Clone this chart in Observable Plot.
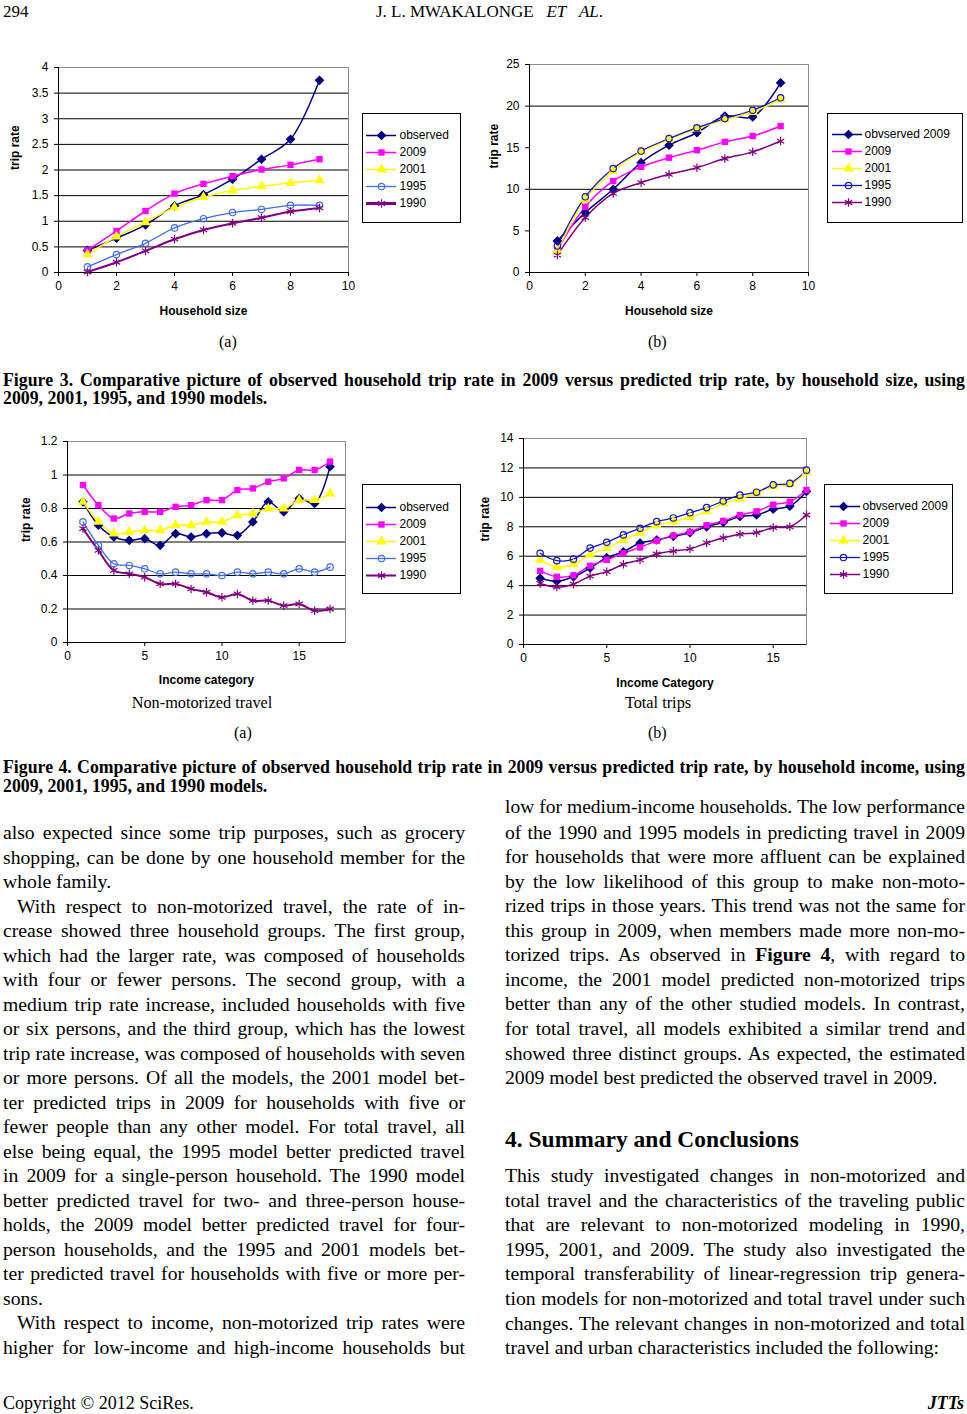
<!DOCTYPE html>
<html><head><meta charset="utf-8">
<script src="https://cdn.jsdelivr.net/npm/d3@7"></script>
<script src="https://cdn.jsdelivr.net/npm/@observablehq/plot@0.6"></script>
<style>
html,body{margin:0;padding:0;background:#fff;}
#page{position:relative;width:967px;height:1414px;overflow:hidden;background:#fff;font-family:"Liberation Serif","Times New Roman",serif;color:#000;}
.abs{position:absolute;}
.ln{position:absolute;white-space:nowrap;font-size:19.7px;height:24px;line-height:24px;}
.j{text-align:justify;text-align-last:justify;}
.cap{font-weight:bold;font-size:17.8px;}
</style></head>
<body><div id="page"></div>
<script>
// ---------- DATA ----------
const seriesKeys = ["observed", "2009", "2001", "1995", "1990"];
const householdSize = [1, 2, 3, 4, 5, 6, 7, 8, 9];
const incomeCategory = [1, 2, 3, 4, 5, 6, 7, 8, 9, 10, 11, 12, 13, 14, 15, 16, 17];

// Figure 3(a): non-motorized trip rate by household size
const hhNonMotorObserved = [0.43, 0.67, 0.93, 1.30, 1.52, 1.82, 2.21, 2.60, 3.75];
const hhNonMotor2009 = [0.43, 0.81, 1.20, 1.54, 1.73, 1.88, 2.01, 2.10, 2.21];
const hhNonMotor2001 = [0.35, 0.70, 0.98, 1.27, 1.47, 1.60, 1.68, 1.75, 1.80];
const hhNonMotor1995 = [0.11, 0.35, 0.57, 0.87, 1.05, 1.17, 1.23, 1.31, 1.31];
const hhNonMotor1990 = [0.01, 0.20, 0.42, 0.65, 0.83, 0.96, 1.07, 1.19, 1.26];

// Figure 3(b): total trip rate by household size
const hhTotalObserved = [3.8, 7.2, 10.0, 13.2, 15.3, 16.8, 18.8, 18.7, 22.8];
const hhTotal2009 = [2.7, 7.9, 11.0, 12.7, 13.8, 14.7, 15.7, 16.4, 17.6];
const hhTotal2001 = [2.6, 8.8, 12.2, 14.5, 16.0, 17.3, 18.4, 19.3, 20.8];
const hhTotal1995 = [3.2, 9.1, 12.5, 14.6, 16.1, 17.4, 18.5, 19.5, 21.0];
const hhTotal1990 = [2.1, 6.6, 9.5, 10.8, 11.8, 12.6, 13.7, 14.5, 15.8];

// Figure 4(a): non-motorized trip rate by income category
const incNonMotorObserved = [0.84, 0.70, 0.63, 0.61, 0.62, 0.58, 0.65, 0.63, 0.65, 0.655, 0.64, 0.72, 0.84, 0.78, 0.86, 0.83, 1.05];
const incNonMotor2009 = [0.94, 0.82, 0.74, 0.77, 0.78, 0.78, 0.81, 0.82, 0.85, 0.85, 0.91, 0.92, 0.96, 0.98, 1.03, 1.03, 1.08];
const incNonMotor2001 = [0.84, 0.72, 0.65, 0.66, 0.67, 0.67, 0.70, 0.70, 0.72, 0.72, 0.76, 0.77, 0.80, 0.80, 0.85, 0.85, 0.89];
const incNonMotor1995 = [0.72, 0.58, 0.47, 0.46, 0.44, 0.41, 0.42, 0.41, 0.41, 0.40, 0.42, 0.41, 0.42, 0.41, 0.44, 0.42, 0.45];
const incNonMotor1990 = [0.68, 0.55, 0.43, 0.41, 0.39, 0.35, 0.35, 0.32, 0.30, 0.27, 0.29, 0.25, 0.25, 0.22, 0.23, 0.19, 0.20];

// Figure 4(b): total trip rate by income category
const incTotalObserved = [4.5, 4.3, 4.6, 5.2, 5.9, 6.3, 6.9, 7.1, 7.35, 7.6, 8.0, 8.3, 8.7, 8.8, 9.2, 9.4, 10.4];
const incTotal2009 = [5.0, 4.6, 4.7, 5.35, 5.75, 6.2, 6.6, 7.05, 7.4, 7.65, 8.1, 8.4, 8.8, 9.05, 9.5, 9.7, 10.5];
const incTotal2001 = [5.75, 5.25, 5.45, 6.1, 6.55, 7.1, 7.6, 8.1, 8.35, 8.65, 9.05, 9.6, 9.9, 10.3, 10.75, 10.9, 11.7];
const incTotal1995 = [6.2, 5.7, 5.8, 6.55, 6.95, 7.45, 7.9, 8.35, 8.6, 8.95, 9.3, 9.75, 10.15, 10.35, 10.85, 10.95, 11.85];
const incTotal1990 = [4.15, 3.9, 4.1, 4.65, 4.95, 5.45, 5.75, 6.15, 6.35, 6.5, 6.9, 7.25, 7.5, 7.6, 7.95, 8.0, 8.8];

// tick values
const ticksHHx = [0, 2, 4, 6, 8, 10];
const ticksIncx = [0, 5, 10, 15];
const ticksNMhh = [0, 0.5, 1, 1.5, 2, 2.5, 3, 3.5, 4];
const ticksTotHH = [0, 5, 10, 15, 20, 25];
const ticksNMinc = [0, 0.2, 0.4, 0.6, 0.8, 1, 1.2];
const ticksTotInc = [0, 2, 4, 6, 8, 10, 12, 14];

// ---------- HELPERS ----------
const page = document.getElementById("page");
const SANS = "Liberation Sans, Arial, Helvetica, sans-serif";

function styleFor(key, variant) {
  const blue95 = variant === "a" ? "#3F6FEF" : "#1414C8";
  switch (key) {
    case "observed": return {color: "#000080", symbol: "diamond2", fill: "#000080", stroke: "#000080", r: 3.6, sw: 1.5};
    case "2009": return {color: "#FF00FF", symbol: "square", fill: "#FF00FF", stroke: "none", r: 3.6, sw: 1.5};
    case "2001": return {color: "#FFFF00", symbol: "triangle", fill: "#FFFF00", stroke: "none", r: 3.8, sw: 1.5};
    case "1995": return {color: blue95, symbol: "circle", fill: "none", stroke: blue95, r: 3.2, sw: 1.3};
    case "1990": return {color: "#800080", symbol: "asterisk", fill: "none", stroke: "#800080", r: 4, sw: variant === "a" ? 2 : 1.5};
  }
}

function place(svg, left, top) {
  const d = document.createElement("div");
  d.className = "abs";
  d.style.left = left + "px";
  d.style.top = top + "px";
  d.appendChild(svg);
  page.appendChild(d);
}

function drawChart(cfg) {
  const rows = [];
  seriesKeys.forEach((k, i) => cfg.cats.forEach((c, j) => rows.push({series: k, x: c, y: cfg.values[i][j]})));
  const marks = [
    Plot.gridY(cfg.grid, {stroke: "#000", strokeOpacity: 1, strokeWidth: 1}),
    Plot.frame({stroke: "#8c8c8c"}),
    Plot.ruleX([cfg.xDomain[0]], {stroke: "#000"}),
    Plot.ruleY([cfg.yDomain[0]], {stroke: "#000"}),
    Plot.axisY({ticks: cfg.yTicks, tickSize: 4, tickPadding: 6, fontSize: 12, label: null, tickFormat: d => String(d)}),
    Plot.axisX({ticks: cfg.xTicks, tickSize: 4, tickPadding: 5, fontSize: 12, label: null, tickFormat: d => String(d)})
  ];
  seriesKeys.forEach(k => {
    const s = styleFor(k, cfg.variant);
    marks.push(Plot.line(rows, {filter: d => d.series === k, x: "x", y: "y", stroke: s.color, strokeWidth: s.sw, curve: "catmull-rom"}));
  });
  seriesKeys.forEach(k => {
    const s = styleFor(k, cfg.variant);
    marks.push(Plot.dot(rows, {filter: d => d.series === k, x: "x", y: "y", symbol: s.symbol, fill: s.fill, stroke: s.stroke, strokeWidth: 1.2, r: s.r}));
  });
  marks.push(Plot.text([cfg.yLabel], {text: d => d, frameAnchor: "left", dx: cfg.yLabelDx, rotate: -90, fontWeight: "bold", fontSize: 12}));
  marks.push(Plot.text([cfg.xLabel], {text: d => d, frameAnchor: "bottom", dy: cfg.xLabelDy, fontWeight: "bold", fontSize: 12}));
  const svg = Plot.plot({
    width: cfg.width, height: cfg.height,
    marginTop: cfg.m[0], marginRight: cfg.m[1], marginBottom: cfg.m[2], marginLeft: cfg.m[3],
    x: {domain: cfg.xDomain, nice: false},
    y: {domain: cfg.yDomain, nice: false},
    style: {fontFamily: SANS, fontSize: "12px", background: "transparent", overflow: "visible", color: "#000"},
    marks
  });
  place(svg, cfg.left, cfg.top);
}

function drawLegend(cfg) {
  const marks = [Plot.frame({stroke: "#000", strokeWidth: 1})];
  seriesKeys.forEach((k, i) => {
    const s = styleFor(k, cfg.variant);
    const lw = (k === "1990" && cfg.thick) ? 3 : s.sw;
    marks.push(Plot.ruleY([k], {y: d => d, x1: () => cfg.lineX[0], x2: () => cfg.lineX[1], stroke: s.color, strokeWidth: lw}));
    marks.push(Plot.dot([k], {y: d => d, x: () => cfg.markX, symbol: s.symbol, fill: s.fill, stroke: s.stroke, strokeWidth: 1.2, r: s.r}));
    marks.push(Plot.text([k], {y: d => d, x: () => cfg.textX, text: () => cfg.labels[i], textAnchor: "start", fontSize: 12}));
  });
  const svg = Plot.plot({
    width: cfg.w, height: cfg.h, margin: 0,
    x: {domain: [0, cfg.w], range: [0, cfg.w], axis: null},
    y: {type: "point", domain: seriesKeys, range: cfg.rowRange, axis: null},
    style: {fontFamily: SANS, fontSize: "12px", background: "transparent", overflow: "visible", color: "#000"},
    marks
  });
  place(svg, cfg.left, cfg.top);
}

// ---------- CHARTS ----------
drawChart({left: 0, top: 55, width: 360, height: 270, m: [12, 12, 53, 58], variant: "a",
  cats: householdSize, values: [hhNonMotorObserved, hhNonMotor2009, hhNonMotor2001, hhNonMotor1995, hhNonMotor1990],
  xDomain: [0, 10], yDomain: [0, 4], xTicks: ticksHHx, yTicks: ticksNMhh, grid: ticksNMhh.slice(1),
  yLabel: "trip rate", xLabel: "Household size", yLabelDx: -43, xLabelDy: 42});

drawChart({left: 490, top: 55, width: 330, height: 270, m: [9, 12, 53, 39], variant: "b",
  cats: householdSize, values: [hhTotalObserved, hhTotal2009, hhTotal2001, hhTotal1995, hhTotal1990],
  xDomain: [0, 10], yDomain: [0, 25], xTicks: ticksHHx, yTicks: ticksTotHH, grid: [10, 20],
  yLabel: "trip rate", xLabel: "Household size", yLabelDx: -35, xLabelDy: 42});

drawChart({left: 0, top: 428, width: 360, height: 285, m: [13, 15, 71, 67], variant: "a",
  cats: incomeCategory, values: [incNonMotorObserved, incNonMotor2009, incNonMotor2001, incNonMotor1995, incNonMotor1990],
  xDomain: [0, 18], yDomain: [0, 1.2], xTicks: ticksIncx, yTicks: ticksNMinc, grid: ticksNMinc.slice(1),
  yLabel: "trip rate", xLabel: "Income category", yLabelDx: -41, xLabelDy: 41});

drawChart({left: 470, top: 428, width: 350, height: 285, m: [10, 14, 69, 53], variant: "b",
  cats: incomeCategory, values: [incTotalObserved, incTotal2009, incTotal2001, incTotal1995, incTotal1990],
  xDomain: [0, 17], yDomain: [0, 14], xTicks: ticksIncx, yTicks: ticksTotInc, grid: ticksTotInc.slice(1),
  yLabel: "trip rate", xLabel: "Income Category", yLabelDx: -38, xLabelDy: 42});

// ---------- LEGENDS ----------
const legendLabelsA = ["observed", "2009", "2001", "1995", "1990"];
const legendLabelsB = ["obvserved 2009", "2009", "2001", "1995", "1990"];
drawLegend({left: 362, top: 113, w: 98, h: 109, variant: "a", thick: true, labels: legendLabelsA, rowRange: [13, 98], lineX: [4, 34], markX: 19, textX: 37});
drawLegend({left: 827, top: 113, w: 135, h: 109, variant: "b", labels: legendLabelsB, rowRange: [12, 97], lineX: [5, 35], markX: 21, textX: 37});
drawLegend({left: 362, top: 484, w: 98, h: 109, variant: "a", labels: legendLabelsA, rowRange: [14, 99], lineX: [4, 34], markX: 19, textX: 37});
drawLegend({left: 824, top: 484, w: 128, h: 109, variant: "b", labels: legendLabelsB, rowRange: [13, 98], lineX: [6, 36], markX: 19, textX: 38});

// ---------- PAGE TEXT ----------
function addLine(html, x, yc, w, cls, extra) {
  const d = document.createElement("div");
  d.className = "ln " + (cls || "");
  d.style.left = x + "px";
  d.style.top = (yc - 12) + "px";
  if (extra) Object.assign(d.style, extra);
  d.innerHTML = html;
  page.appendChild(d);
  if (w) {
    const natural = d.scrollWidth;
    if (natural > w) {
      const fs = parseFloat(getComputedStyle(d).fontSize);
      d.style.fontSize = (fs * w / natural * 0.997) + "px";
    }
    d.style.width = w + "px";
  }
  return d;
}

addLine("294", 3, 12, null, "", {fontSize: "17px"});
addLine("J. L. MWAKALONGE&nbsp;&nbsp;&nbsp;<i>ET</i>&nbsp;&nbsp;&nbsp;<i>AL</i>.", 6, 12, 967, "", {fontSize: "17px", textAlign: "center"});

addLine("(a)", 219, 342, null, "", {fontSize: "16px"});
addLine("(b)", 648, 342, null, "", {fontSize: "16px"});

addLine("Figure 3. Comparative picture of observed household trip rate in 2009 versus predicted trip rate, by household size, using", 3, 380, 962, "j cap");
addLine("2009, 2001, 1995, and 1990 models.", 3, 398, null, "cap");

addLine("Non-motorized travel", 0, 703, 404, "", {fontSize: "16.3px", textAlign: "center"});
addLine("Total trips", 560, 703, 196, "", {fontSize: "16.3px", textAlign: "center"});
addLine("(a)", 234, 733, null, "", {fontSize: "16px"});
addLine("(b)", 648, 733, null, "", {fontSize: "16px"});

addLine("Figure 4. Comparative picture of observed household trip rate in 2009 versus predicted trip rate, by household income, using", 3, 767, 962, "j cap");
addLine("2009, 2001, 1995, and 1990 models.", 3, 786, null, "cap");

const leftCol = [
  ["also expected since some trip purposes, such as grocery", 0, true],
  ["shopping, can be done by one household member for the", 0, true],
  ["whole family.", 0, false],
  ["With respect to non-motorized travel, the rate of in-", 14, true],
  ["crease showed three household groups. The first group,", 0, true],
  ["which had the larger rate, was composed of households", 0, true],
  ["with four or fewer persons. The second group, with a", 0, true],
  ["medium trip rate increase, included households with five", 0, true],
  ["or six persons, and the third group, which has the lowest", 0, true],
  ["trip rate increase, was composed of households with seven", 0, true],
  ["or more persons. Of all the models, the 2001 model bet-", 0, true],
  ["ter predicted trips in 2009 for households with five or", 0, true],
  ["fewer people than any other model. For total travel, all", 0, true],
  ["else being equal, the 1995 model better predicted travel", 0, true],
  ["in 2009 for a single-person household. The 1990 model", 0, true],
  ["better predicted travel for two- and three-person house-", 0, true],
  ["holds, the 2009 model better predicted travel for four-", 0, true],
  ["person households, and the 1995 and 2001 models bet-", 0, true],
  ["ter predicted travel for households with five or more per-", 0, true],
  ["sons.", 0, false],
  ["With respect to income, non-motorized trip rates were", 14, true],
  ["higher for low-income and high-income households but", 0, true]
];
leftCol.forEach((l, i) => addLine(l[0], 3 + l[1], 832 + i * 24.5, l[2] ? 462 - l[1] : null, l[2] ? "j" : ""));

const rightCol1 = [
  ["low for medium-income households. The low performance", true],
  ["of the 1990 and 1995 models in predicting travel in 2009", true],
  ["for households that were more affluent can be explained", true],
  ["by the low likelihood of this group to make non-moto-", true],
  ["rized trips in those years. This trend was not the same for", true],
  ["this group in 2009, when members made more non-mo-", true],
  ["torized trips. As observed in <b>Figure 4</b>, with regard to", true],
  ["income, the 2001 model predicted non-motorized trips", true],
  ["better than any of the other studied models. In contrast,", true],
  ["for total travel, all models exhibited a similar trend and", true],
  ["showed three distinct groups. As expected, the estimated", true],
  ["2009 model best predicted the observed travel in 2009.", false]
];
rightCol1.forEach((l, i) => addLine(l[0], 505, 807 + i * 24.55, l[1] ? 460 : null, l[1] ? "j" : ""));

addLine("4. Summary and Conclusions", 505, 1139, null, "", {fontSize: "23.5px", fontWeight: "bold"});

const rightCol2 = [
  ["This study investigated changes in non-motorized and", true],
  ["total travel and the characteristics of the traveling public", true],
  ["that are relevant to non-motorized modeling in 1990,", true],
  ["1995, 2001, and 2009. The study also investigated the", true],
  ["temporal transferability of linear-regression trip genera-", true],
  ["tion models for non-motorized and total travel under such", true],
  ["changes. The relevant changes in non-motorized and total", true],
  ["travel and urban characteristics included the following:", false]
];
rightCol2.forEach((l, i) => addLine(l[0], 505, 1175 + i * 24.6, l[1] ? 460 : null, l[1] ? "j" : ""));

addLine("Copyright &copy; 2012 SciRes.", 3, 1402, null, "", {fontSize: "18px", height: "20px", lineHeight: "20px", top: "1393px"});
addLine("<b><i>JTTs</i></b>", 0, 1402, 964, "", {fontSize: "18px", textAlign: "right", height: "20px", lineHeight: "20px", top: "1393px"});
</script>
</body></html>
